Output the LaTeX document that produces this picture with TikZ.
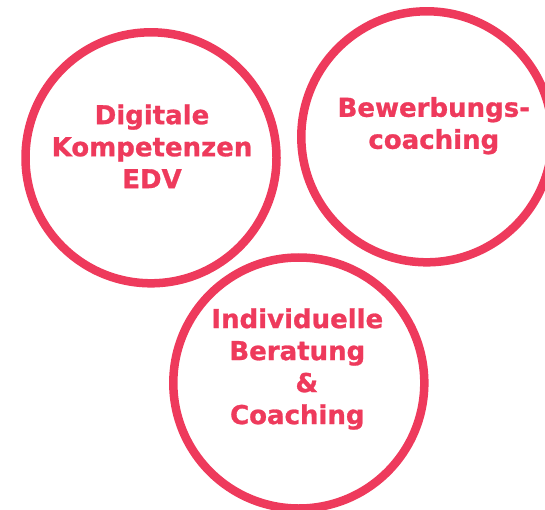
\documentclass[tikz,border=0pt]{standalone}
\usepackage{fontspec}
\setmainfont[BoldFeatures={FakeBold=1}]{DejaVu Sans}
\definecolor{ringred}{RGB}{238,58,92}

\begin{document}
\begin{tikzpicture}[x=1pt,y=-1pt,ring/.style={shape=circle,draw=ringred,line width=8.5pt,minimum size=251pt,inner sep=0pt},ringtext/.style={align=center,text=ringred,inner sep=0pt,font=\fontsize{26}{32}\selectfont\bfseries}]
\def\upa{11.5};
\def\upb{11.1};
\def\upc{14};

\useasboundingbox (0,0) rectangle (545,510);

\node[ring] (edv) at (151,157.8) {};
\node[ringtext] (edvT) at ([xshift=1pt,yshift=\upa pt]edv.center) {Digitale\\Kompetenzen\\EDV};

\node[ring] (bew) at (426.8,136.8) {};
\node[ringtext] (bewT) at ([xshift=7pt,yshift=\upb pt]bew.center) {Bewerbungs-\\coaching};

\node[ring] (ber) at (298.8,383) {};
\node[ringtext] (berT) at ([xshift=-1.5pt,yshift=\upc pt]ber.center) {Individuelle\\Beratung\\\hspace*{19pt}\&\\Coaching};
\end{tikzpicture}
\end{document}
